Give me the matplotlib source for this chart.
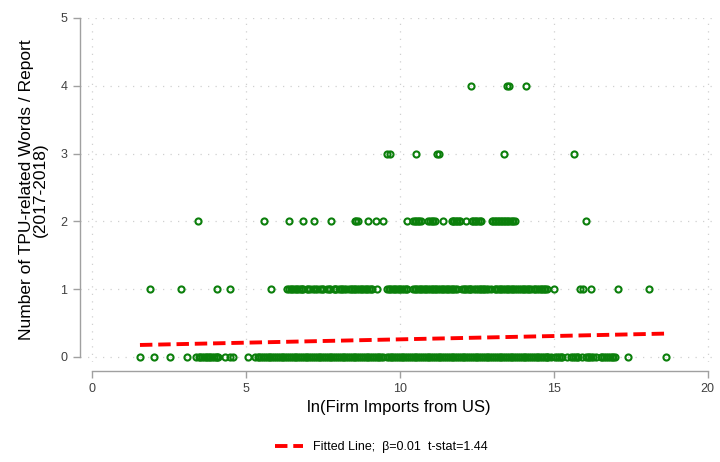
import numpy as np
import matplotlib
matplotlib.use('Agg')
import matplotlib.pyplot as plt

plt.rcParams['font.family'] = ['Liberation Sans', 'DejaVu Sans']

# x values (ln firm imports)
x_y0 = [1.56, 2.02, 2.53, 3.10, 3.38, 3.47, 3.58, 3.69, 3.80, 3.91, 4.02, 4.10, 4.32, 4.48, 4.59, 5.07, 5.29,
        5.38, 5.50, 5.62, 5.74, 5.86, 5.98, 6.10, 6.22, 6.34, 6.46, 6.58, 6.70, 6.82, 6.94, 7.06, 7.18, 7.30,
        7.42, 7.54, 7.66, 7.78, 7.90, 8.02, 8.14, 8.26, 8.38, 8.50, 8.62, 8.74, 8.86, 8.98, 9.10, 9.22, 9.34,
        9.46, 9.58, 9.70, 9.82, 9.94, 10.06, 10.18, 10.30, 10.42, 10.54, 10.66, 10.78, 10.90, 11.02, 11.14,
        11.26, 11.38, 11.50, 11.62, 11.74, 11.86, 11.98, 12.10, 12.22, 12.34, 12.46, 12.58, 12.70, 12.82,
        12.94, 13.06, 13.18, 13.30, 13.42, 13.54, 13.66, 13.78, 13.90, 14.02, 14.14, 14.26, 14.38, 14.50,
        14.62, 14.74, 14.82, 14.92, 15.04, 15.16, 15.28, 15.42, 15.56, 15.68, 15.80, 15.92, 16.04, 16.16,
        16.28, 16.38, 16.52, 16.64, 16.76, 16.88, 16.98, 17.40, 18.66]
# more firms packed into the solid-looking runs of the zero row
x_y0_more = [3.52, 3.63, 3.74, 3.85, 3.96, 4.06,
             5.44, 5.56, 5.68, 5.80, 5.92, 6.04, 6.16, 6.28, 6.40, 6.52, 6.64, 6.76, 6.88, 7.00, 7.12, 7.24,
             7.36, 7.48, 7.60, 7.72, 7.84, 7.96, 8.08, 8.20, 8.32, 8.44, 8.56, 8.68, 8.80, 8.92, 9.04, 9.16,
             9.28, 9.40, 9.64, 9.76, 9.88, 10.00, 10.12, 10.24, 10.36, 10.48, 10.60, 10.72, 10.84,
             10.96, 11.08, 11.20, 11.32, 11.44, 11.56, 11.68, 11.80, 11.92, 12.04, 12.16, 12.28, 12.40, 12.52,
             12.64, 12.76, 12.88, 13.00, 13.12, 13.24, 13.36, 13.48, 13.60, 13.72, 13.84, 13.96, 14.08, 14.20,
             14.32, 14.44, 14.56, 14.68, 14.78, 15.10, 15.22, 15.62, 15.74, 16.10, 16.22, 16.58, 16.70,
             16.82, 16.93]
x_y1 = [1.90, 2.89, 4.05, 4.48, 5.81, 6.34, 6.45, 6.56, 6.67, 6.78, 6.86, 6.97, 7.08, 7.19, 7.30, 7.41,
        7.52, 7.63, 7.74, 7.85, 7.94, 8.02, 8.13, 8.24, 8.34, 8.45, 8.56, 8.67, 8.78, 8.89, 9.00, 9.11,
        9.26, 9.58, 9.69, 9.80, 9.91, 10.02, 10.13, 10.24, 10.42, 10.53, 10.64, 10.75, 10.86, 10.97, 11.08,
        11.19, 11.30, 11.41, 11.52, 11.63, 11.74, 11.85, 12.02, 12.13, 12.24, 12.32, 12.42, 12.53, 12.64,
        12.75, 12.86, 12.97, 13.08, 13.19, 13.30, 13.41, 13.52, 13.63, 13.74, 13.80, 13.88, 13.99, 14.10,
        14.21, 14.27, 14.35, 14.46, 14.57, 14.68, 14.78, 15.00, 15.86, 15.96, 16.20, 17.10, 18.10]
x_y1_more = [6.40, 6.51, 6.62, 6.73, 6.82, 7.03, 7.25, 7.47, 7.69, 7.90, 8.08, 8.19, 8.40, 8.51, 8.62,
             8.73, 8.84, 8.95, 9.06, 9.64, 9.75, 9.86, 9.97, 10.08, 10.19, 10.48, 10.59, 10.70, 10.81,
             10.92, 11.03, 11.14, 11.25, 11.36, 11.47, 11.58, 11.69, 11.80, 12.08, 12.19, 12.28, 12.48,
             12.59, 12.70, 12.81, 13.14, 13.25, 13.36, 13.47, 13.58, 13.69, 13.94, 14.05, 14.16, 14.40,
             14.51, 14.62, 14.73]
x_y2 = [3.45, 5.59, 6.41, 6.84, 7.22, 7.75, 8.55, 8.59, 8.63, 8.97, 9.22, 9.46, 10.22, 10.43, 10.48, 10.53,
        10.58, 10.63, 10.70, 10.93, 10.97, 11.03, 11.08, 11.13, 11.40, 11.68, 11.72, 11.77, 11.82, 11.86,
        11.91, 11.95, 12.14, 12.33, 12.38, 12.43, 12.49, 12.55, 12.60, 12.65, 12.98, 13.03, 13.08, 13.13,
        13.18, 13.23, 13.28, 13.33, 13.38, 13.43, 13.48, 13.53, 13.58, 13.63, 13.68, 13.73, 16.04]
x_y3 = [9.58, 9.68, 10.53, 11.21, 11.26, 13.37, 15.67]
x_y4 = [12.31, 13.47, 13.55, 14.09]

fit_x = [1.56, 18.66]
fit_y = [0.177, 0.345]
fit_label = 'Fitted Line;  \u03b2=0.01  t-stat=1.44'

xs = x_y0 + x_y0_more + x_y1 + x_y1_more + x_y2 + x_y3 + x_y4
ys = ([0]*(len(x_y0) + len(x_y0_more)) + [1]*(len(x_y1) + len(x_y1_more))
      + [2]*len(x_y2) + [3]*len(x_y3) + [4]*len(x_y4))

fig = plt.figure(figsize=(7.2, 4.62), dpi=100)
ax = fig.add_axes([0.111, 0.2156, 0.886, 0.7455])

ax.plot(xs, ys, linestyle='none', marker='o', markersize=4.4, markerfacecolor='none',
        markeredgecolor='#0b7f0b', markeredgewidth=1.5, zorder=3)
ax.plot(fit_x, fit_y, color='#ff0000', lw=2.8, dashes=(3.2, 1.5), label=fit_label, zorder=4)

ax.set_xlim(-0.39, 20.33)
ax.set_ylim(-0.08, 5.0)
ax.set_xticks([0, 5, 10, 15, 20])
ax.set_yticks([0, 1, 2, 3, 4, 5])

ax.grid(True, color='#d0d0d0', linestyle=(0, (1, 5)), linewidth=0.9)
ax.set_axisbelow(True)

for s in ['top', 'right']:
    ax.spines[s].set_visible(False)
ax.spines['left'].set_bounds(0, 5)
ax.spines['bottom'].set_bounds(0, 20)
ax.spines['bottom'].set_position(('outward', 6))
for s in ['left', 'bottom']:
    ax.spines[s].set_color('#a0a0a0')
    ax.spines[s].set_linewidth(1.0)

ax.tick_params(axis='both', colors='#a0a0a0', labelcolor='#404040', labelsize=9, length=5, width=1.0)
ax.tick_params(axis='y', pad=4)

ax.set_xlabel('ln(Firm Imports from US)', fontsize=12, labelpad=4)
ax.set_ylabel('Number of TPU-related Words / Report\n(2017-2018)', fontsize=12.5, labelpad=9,
              linespacing=0.95)

fig.legend(loc='lower center', bbox_to_anchor=(0.53, -0.005), frameon=False, fontsize=9,
           handlelength=2.2)

fig.savefig('out.png', dpi=100)
